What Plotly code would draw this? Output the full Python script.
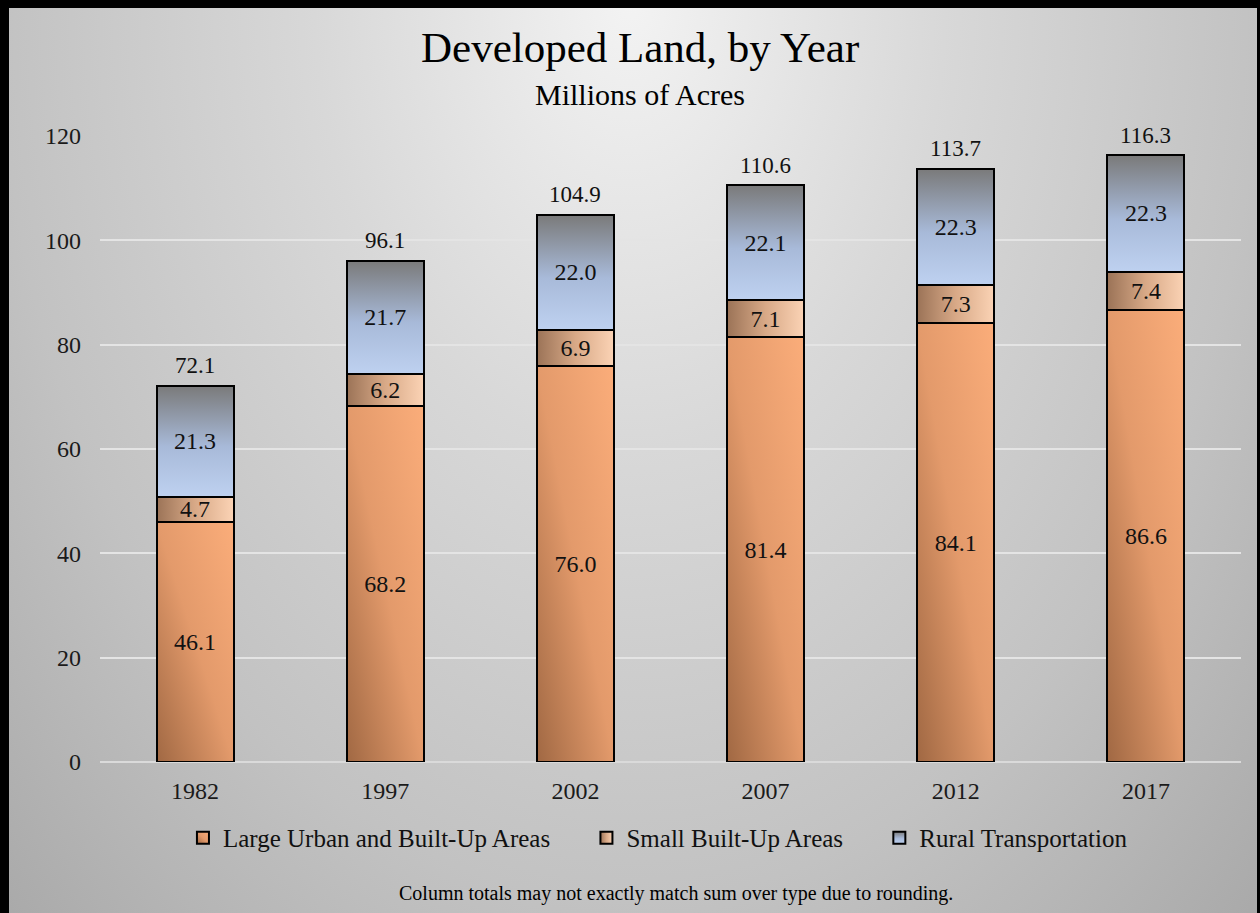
import plotly.graph_objects as go

years = ["1982", "1997", "2002", "2007", "2012", "2017"]
large_urban = [46.1, 68.2, 76.0, 81.4, 84.1, 86.6]
small_built = [4.7, 6.2, 6.9, 7.1, 7.3, 7.4]
rural_transport = [21.3, 21.7, 22.0, 22.1, 22.3, 22.3]
totals = [72.1, 96.1, 104.9, 110.6, 113.7, 116.3]

series_names = ["Large Urban and Built-Up Areas", "Small Built-Up Areas", "Rural Transportation"]
series_colors = ["#e39a6b", "#d9a98a", "#a8b7d2"]

FONT = "Liberation Serif, Times New Roman, serif"

fig = go.Figure()
pad = ["\u00a0" * 5, "\u00a0" * 5, ""]
for name, vals, col, p in zip(series_names, [large_urban, small_built, rural_transport], series_colors, pad):
    fig.add_trace(go.Bar(
        x=years, y=vals, name=name + p,
        text=[f"{v:.1f}" for v in vals],
        textposition="inside", insidetextanchor="middle", constraintext="none",
        textangle=0,
        textfont=dict(family=FONT, size=24, color="#111111"),
        marker=dict(color=col, line=dict(color="#000000", width=2)),
    ))

for i, t in enumerate(totals):
    fig.add_annotation(x=i, y=t, xref="x", yref="y", text=f"{t:.1f}", showarrow=False,
                       yanchor="middle", yshift=20,
                       font=dict(family=FONT, size=23, color="#111111"))

fig.add_annotation(x=0.4733, y=1.1406, xref="paper", yref="paper", text="Developed Land, by Year",
                   showarrow=False, xanchor="center", yanchor="middle",
                   font=dict(family=FONT, size=43, color="#000000"))
fig.add_annotation(x=0.4733, y=1.0655, xref="paper", yref="paper", text="Millions of Acres",
                   showarrow=False, xanchor="center", yanchor="middle",
                   font=dict(family=FONT, size=30, color="#000000"))
fig.add_annotation(x=0.505, y=-0.2093, xref="paper", yref="paper",
                   text="Column totals may not exactly match sum over type due to rounding.",
                   showarrow=False, xanchor="center", yanchor="middle",
                   font=dict(family=FONT, size=20, color="#000000"))

fig.update_layout(
    width=1260, height=913,
    barmode="stack", bargap=0.595,
    paper_bgcolor="rgba(0,0,0,0)", plot_bgcolor="rgba(0,0,0,0)",
    margin=dict(l=100, r=19, t=136, b=151, autoexpand=False),
    font=dict(family=FONT, size=24, color="#111111"),
    showlegend=True,
    legend=dict(orientation="h", x=0.489, xanchor="center", y=-0.1214, yanchor="middle",
                font=dict(family=FONT, size=25, color="#111111"),
                itemwidth=30, bgcolor="rgba(0,0,0,0)", traceorder="normal"),
    xaxis=dict(type="category", range=[-0.5, 5.5], showgrid=False, showline=False, zeroline=False,
               tickfont=dict(family=FONT, size=24, color="#1a1a1a"), ticklabelstandoff=12,
               automargin=False),
    yaxis=dict(range=[0, 120], dtick=20, showgrid=True, gridcolor="#e4e4e4", gridwidth=1.5,
               zeroline=True, zerolinecolor="#dadada", zerolinewidth=2, showline=False,
               tickfont=dict(family=FONT, size=24, color="#1a1a1a"), ticklabelstandoff=18,
               automargin=False),
)

post_js = r"""
(function(){
var gd = document.getElementById('{plot_id}');
document.body.style.margin = '0';
document.body.style.background = '#b8b8b8';
var ns = 'http://www.w3.org/2000/svg';
var grads = {
 0: {x1:0,y1:1,x2:1,y2:0, stops:[[0,'#a06843'],[0.5,'#e39a6b'],[1,'#fbad7a']]},
 1: {x1:0,y1:0,x2:1,y2:0, stops:[[0,'#9b7357'],[0.5,'#d8a987'],[1,'#fbd3b5']]},
 2: {x1:0,y1:0,x2:0,y2:1, stops:[[0,'#7a7a7a'],[0.55,'#a8bad9'],[1,'#bed1f0']]}
};
function ensureDefs(){
  var svg = gd.querySelector('svg.main-svg');
  if (!svg || document.getElementById('rk-g0')) return;
  var defs = document.createElementNS(ns,'defs');
  Object.keys(grads).forEach(function(k){
    var g = grads[k];
    var lg = document.createElementNS(ns,'linearGradient');
    lg.setAttribute('id','rk-g'+k);
    ['x1','y1','x2','y2'].forEach(function(a){lg.setAttribute(a, g[a]);});
    g.stops.forEach(function(s){
      var st=document.createElementNS(ns,'stop');
      st.setAttribute('offset', s[0]); st.setAttribute('stop-color', s[1]);
      lg.appendChild(st);
    });
    defs.appendChild(lg);
  });
  svg.insertBefore(defs, svg.firstChild);
}
function idxOf(el){
  var d = el.__data__;
  if (d && d[0] && d[0].trace) return d[0].trace.index;
  return null;
}
function paint(){
  ensureDefs();
  gd.querySelectorAll('.barlayer .trace').forEach(function(t){
    var i = idxOf(t); if (i===null) return;
    t.querySelectorAll('path').forEach(function(p){ p.style.fill = 'url(#rk-g'+i+')'; });
  });
  gd.querySelectorAll('.legend .traces').forEach(function(t){
    var i = idxOf(t); if (i===null) return;
    t.querySelectorAll('.legendpoints path').forEach(function(p){ p.style.fill = 'url(#rk-g'+i+')'; });
  });
}
gd.style.background = 'radial-gradient(ellipse 700px 1000px at 50% 0%, #f3f3f3 0%, #d8d8d8 45%, #c2c2c2 90%, #a8a8a8 130%)';
gd.style.boxShadow = 'inset 9px 8px 0 0 #000, inset -3px 0 0 0 #000';
paint();
gd.on('plotly_afterplot', paint);
})();
"""

fig.write_html("out.html", include_plotlyjs=True, default_width="1260px", default_height="913px",
               post_script=post_js, config={"displayModeBar": False})
